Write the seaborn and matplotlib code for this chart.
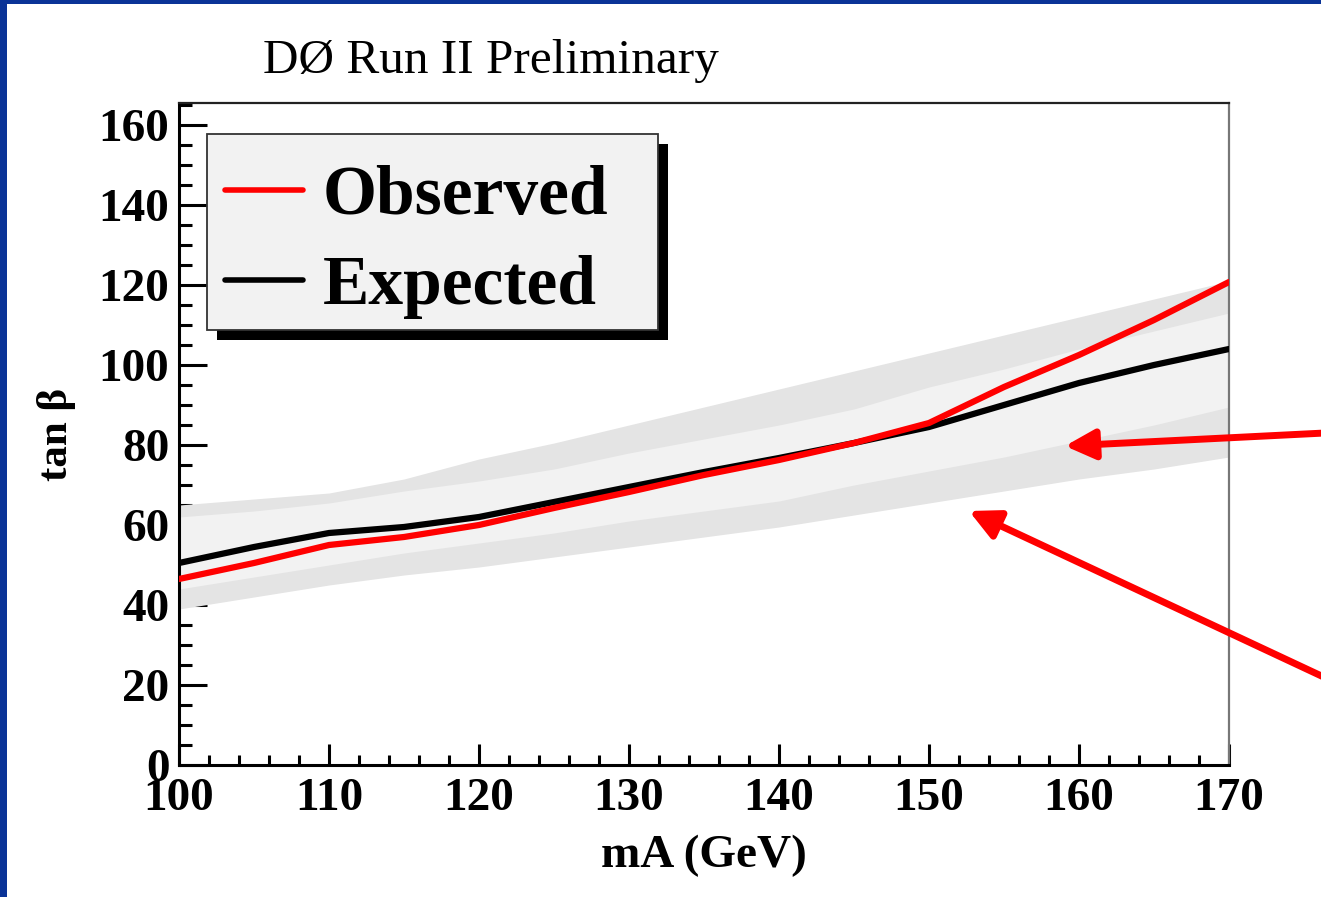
import numpy as np
import pandas as pd
import matplotlib
matplotlib.use("Agg")
import matplotlib.pyplot as plt
import seaborn as sns
from matplotlib.patches import Rectangle
from matplotlib.lines import Line2D
from matplotlib.ticker import MultipleLocator
from matplotlib.font_manager import FontProperties

# ---------------- data ----------------
mA = [100, 105, 110, 115, 120, 125, 130, 135, 140, 145, 150, 155, 160, 165, 170]
observed = [46.5, 50.5, 55.0, 57.0, 60.0, 64.25, 68.25, 72.5, 76.25, 80.5, 85.5, 94.5, 102.5, 111.25, 120.75]
expected = [50.5, 54.5, 58.0, 59.5, 62.0, 65.75, 69.5, 73.25, 76.75, 80.5, 84.5, 90.0, 95.5, 100.0, 104.0]
band2_hi = [65.0, 66.5, 68.0, 71.5, 76.5, 80.5, 85.0, 89.5, 94.0, 98.5, 103.0, 107.5, 112.0, 116.5, 121.0]
band1_hi = [62.0, 63.5, 65.5, 68.5, 71.0, 74.0, 78.0, 81.5, 85.0, 89.0, 94.5, 99.0, 104.0, 108.5, 113.0]
band1_lo = [44.0, 47.0, 50.0, 53.0, 55.5, 58.0, 61.0, 63.5, 66.0, 70.0, 73.5, 77.0, 81.0, 85.0, 89.5]
band2_lo = [39.0, 42.0, 45.0, 47.5, 49.5, 52.0, 54.5, 57.0, 59.5, 62.5, 65.5, 68.5, 71.5, 74.0, 77.0]
x_ticks = [100, 110, 120, 130, 140, 150, 160, 170]
y_ticks = [0, 20, 40, 60, 80, 100, 120, 140, 160]
title_text = "DØ Run II Preliminary"
legend_labels = ["Observed", "Expected"]

# ---------------- style ----------------
sns.set_style("ticks")
plt.rcParams["font.family"] = ["Liberation Serif", "DejaVu Serif"]
plt.rcParams["font.weight"] = "bold"
plt.rcParams["axes.labelweight"] = "bold"
plt.rcParams["text.color"] = "black"
plt.rcParams["axes.labelcolor"] = "black"
plt.rcParams["xtick.color"] = "black"
plt.rcParams["ytick.color"] = "black"
plt.rcParams["xtick.labelcolor"] = "black"
plt.rcParams["ytick.labelcolor"] = "black"

W, H = 1321, 897
fig = plt.figure(figsize=(W / 100, H / 100), dpi=100)
fig.patch.set_facecolor("white")
ax = fig.add_axes([179 / W, 132 / H, 1050 / W, 662 / H])

# bands
ax.fill_between(mA, band2_lo, band2_hi, color="#e4e4e4", lw=0, zorder=1)
ax.fill_between(mA, band1_lo, band1_hi, color="#f2f2f2", lw=0, zorder=1.1)

df = pd.DataFrame({
    "mA": mA * 2,
    "tanb": expected + observed,
    "curve": ["Expected"] * len(mA) + ["Observed"] * len(mA),
})
sns.lineplot(data=df, x="mA", y="tanb", hue="curve",
             hue_order=["Expected", "Observed"],
             palette={"Observed": "#ff0000", "Expected": "black"},
             lw=4.5, legend=False, ax=ax, zorder=3)

ax.set_xlim(100, 170)
ax.set_ylim(0, 165.5)
ax.set_xticks(x_ticks)
ax.set_yticks(y_ticks)
ax.xaxis.set_minor_locator(MultipleLocator(2))
ax.yaxis.set_minor_locator(MultipleLocator(5))
ax.tick_params(which="both", direction="in", top=False, right=False,
               width=2.2, color="black", labelcolor="black", labelsize=34)
ax.tick_params(axis="x", which="major", length=15, pad=9)
ax.tick_params(axis="x", which="minor", length=7)
ax.tick_params(axis="y", which="major", length=20, pad=7)
ax.tick_params(axis="y", which="minor", length=9.5)

for s in ["left", "bottom"]:
    ax.spines[s].set_linewidth(2.2)
    ax.spines[s].set_color("black")
ax.spines["top"].set_linewidth(1.6)
ax.spines["top"].set_color("#222222")
ax.spines["right"].set_linewidth(1.6)
ax.spines["right"].set_color("#777777")

ax.set_xlabel("mA (GeV)", fontsize=34, labelpad=11, color="black")
ax.set_ylabel("tan β", fontsize=31, labelpad=16, color="black")

# legend box with shadow
ax.add_patch(Rectangle((0.0362, 0.642), 0.4293, 0.296, transform=ax.transAxes,
                       facecolor="black", edgecolor="none", zorder=4, clip_on=False))
ax.add_patch(Rectangle((0.0267, 0.657), 0.4293, 0.296, transform=ax.transAxes,
                       facecolor="#f2f2f2", edgecolor="#333333", lw=1.3,
                       zorder=4.1, clip_on=False))
handles = [Line2D([], [], color="#ff0000", lw=4),
           Line2D([], [], color="black", lw=4)]
leg = ax.legend(handles, legend_labels, loc="upper left",
                bbox_to_anchor=(0.0438, 0.906), borderpad=0, borderaxespad=0,
                frameon=False, handlelength=1.12, handletextpad=0.29,
                labelspacing=0.37, labelcolor="black",
                prop=FontProperties(family="Liberation Serif", weight="bold", size=50))
leg.set_zorder(5)

# title
fig.text(491 / W, 1 - 73 / H, title_text, ha="center", va="baseline",
         fontsize=35.5, fontweight="normal", color="black")

# arrows
arrow_kw = dict(arrowstyle="-|>,head_length=0.6,head_width=0.3", mutation_scale=30,
                lw=5, color="#ff0000", shrinkA=0, shrinkB=0)
ax.annotate("", xy=(1065, H - 446), xytext=(1345, H - 432),
            xycoords="figure pixels", textcoords="figure pixels",
            arrowprops=arrow_kw, annotation_clip=False, zorder=6)
ax.annotate("", xy=(969, H - 511), xytext=(1345, H - 687),
            xycoords="figure pixels", textcoords="figure pixels",
            arrowprops=arrow_kw, annotation_clip=False, zorder=6)

# blue slide border
fig.add_artist(Rectangle((0, 0), 7 / W, 1, transform=fig.transFigure,
                         facecolor="#0a3397", edgecolor="none", zorder=10))
fig.add_artist(Rectangle((0, 1 - 4 / H), 1, 4 / H, transform=fig.transFigure,
                         facecolor="#0a3397", edgecolor="none", zorder=10))

fig.savefig("out.png", dpi=100, facecolor="white")
